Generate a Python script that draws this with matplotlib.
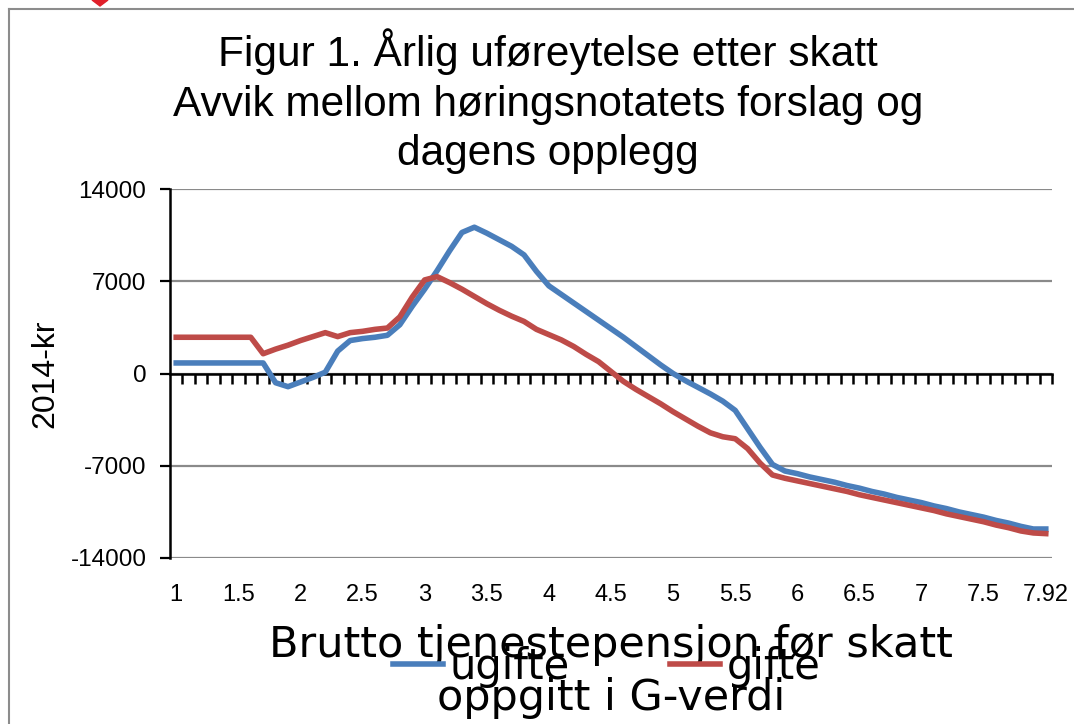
import matplotlib
matplotlib.use("Agg")
import matplotlib.pyplot as plt
import numpy as np
from matplotlib.lines import Line2D
from matplotlib.patches import Polygon

# x categories (G-verdi), one per step of 0.1 plus the last point 7.92
G_VALUES = [1.0, 1.1, 1.2, 1.3, 1.4, 1.5, 1.6, 1.7, 1.8, 1.9,
            2.0, 2.1, 2.2, 2.3, 2.4, 2.5, 2.6, 2.7, 2.8, 2.9,
            3.0, 3.1, 3.2, 3.3, 3.4, 3.5, 3.6, 3.7, 3.8, 3.9,
            4.0, 4.1, 4.2, 4.3, 4.4, 4.5, 4.6, 4.7, 4.8, 4.9,
            5.0, 5.1, 5.2, 5.3, 5.4, 5.5, 5.6, 5.7, 5.8, 5.9,
            6.0, 6.1, 6.2, 6.3, 6.4, 6.5, 6.6, 6.7, 6.8, 6.9,
            7.0, 7.1, 7.2, 7.3, 7.4, 7.5, 7.6, 7.7, 7.8, 7.9,
            7.92]
TICK_LABELS = ["1", "1.5", "2", "2.5", "3", "3.5", "4", "4.5",
               "5", "5.5", "6", "6.5", "7", "7.5", "7.92"]

# avvik i 2014-kr
UGIFTE = [800, 800, 800, 800, 800, 800, 800, 800, -700, -1000,
          -650, -300, 100, 1700, 2500, 2650, 2750, 2900, 3700, 5100,
          6400, 7800, 9300, 10700, 11100, 10650, 10150, 9650, 9000, 7750,
          6650, 6000, 5350, 4700, 4050, 3400, 2750, 2050, 1350, 650,
          0, -550, -1050, -1550, -2100, -2800, -4200, -5600, -6900, -7400,
          -7600, -7850, -8050, -8250, -8500, -8700, -8950, -9150, -9400, -9600,
          -9800, -10050, -10250, -10500, -10700, -10900, -11150, -11350, -11600, -11800,
          -11800]
GIFTE = [2750, 2750, 2750, 2750, 2750, 2750, 2750, 1500, 1850, 2150,
         2500, 2800, 3100, 2800, 3100, 3200, 3350, 3450, 4300, 5800,
         7100, 7350, 6900, 6400, 5850, 5300, 4800, 4350, 3950, 3350,
         2950, 2550, 2050, 1450, 900, 150, -600, -1200, -1750, -2300,
         -2900, -3450, -4000, -4500, -4800, -4950, -5700, -6800, -7700, -7950,
         -8150, -8350, -8550, -8750, -8950, -9200, -9400, -9600, -9800, -10000,
         -10200, -10400, -10650, -10850, -11050, -11250, -11500, -11700, -11950, -12100,
         -12150]
Y_TICKS = [-14000, -7000, 0, 7000, 14000]

BLUE = "#4a7ebb"
RED = "#be4b48"
W, H = 1074, 724

arial = "Liberation Sans"

fig = plt.figure(figsize=(W / 100, H / 100), dpi=100)
ax = fig.add_axes([170 / W, 1 - 558 / H, 882 / W, 369 / H])

x = np.arange(len(G_VALUES))
ax.plot(x, UGIFTE, color=BLUE, lw=4.0, label="ugifte", zorder=3)
ax.plot(x, GIFTE, color=RED, lw=4.0, label="gifte", zorder=3)

ax.set_xlim(-0.5, len(G_VALUES) - 0.5)
ax.set_ylim(-14000, 14000)
ax.set_yticks(Y_TICKS)
ax.set_yticklabels([str(v) for v in Y_TICKS], family=arial, fontsize=17.5)
ax.yaxis.grid(True, color="#8a8a8a", lw=1.6)
ax.set_axisbelow(True)

for s in ("top", "right"):
    ax.spines[s].set_visible(False)
ax.spines["left"].set_linewidth(1.8)
ax.spines["bottom"].set_position(("data", 0))
ax.spines["bottom"].set_linewidth(1.8)
ax.tick_params(axis="y", direction="out", length=7, width=1.6, pad=10)

# tick marks between categories on the zero line, no labels there
ax.set_xticks(x + 0.5)
ax.set_xticklabels([])
ax.tick_params(axis="x", direction="out", length=7, width=1.8)

# category labels at the bottom of the plot area
sec = ax.secondary_xaxis("bottom")
sec.set_xticks(x[::5], TICK_LABELS, family=arial, fontsize=17)
sec.tick_params(length=0, pad=19)
sec.spines["bottom"].set_visible(False)

ax.set_ylabel("2014-kr", family=arial, fontsize=23)
ax.yaxis.set_label_coords(-0.124, 0.5)

fig.text(548 / W, 1 - 165 / H,
         "Figur 1. Årlig uføreytelse etter skatt\nAvvik mellom høringsnotatets forslag og\ndagens opplegg",
         ha="center", va="baseline", family=arial, fontsize=30.5, linespacing=1.3)

fig.text(611 / W, 1 - 710 / H, "Brutto tjenestepensjon før skatt\noppgitt i G-verdi",
         ha="center", va="baseline", family="DejaVu Sans", fontsize=31, linespacing=1.32)

fig.legend(loc="center", bbox_to_anchor=(607 / W, 1 - 667 / H), ncol=2, frameon=False,
           prop={"family": "DejaVu Sans", "size": 30}, handlelength=1.2, handletextpad=0.16,
           columnspacing=2.4, borderpad=0, borderaxespad=0)

# frame of the original chart object and the cut-off marker at the top
fig.add_artist(Line2D([9 / W, 9 / W], [0, 1 - 9 / H], color="#8c8c8c", lw=1.5))
fig.add_artist(Line2D([9 / W, 1], [1 - 9 / H, 1 - 9 / H], color="#8c8c8c", lw=1.5))
fig.add_artist(Polygon([[92 / W, 1], [108 / W, 1], [100 / W, 1 - 6 / H]],
                       closed=True, color="#e0202a", transform=fig.transFigure))

fig.savefig("out.png", dpi=100)
